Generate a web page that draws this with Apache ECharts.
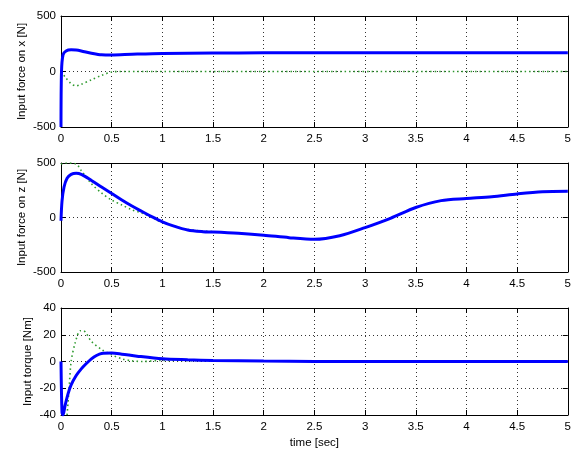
<!DOCTYPE html>
<html><head><meta charset="utf-8">
<script src="https://cdn.jsdelivr.net/npm/echarts@6/dist/echarts.min.js"></script>
<style>html,body{margin:0;padding:0;background:#fff}#c{width:574px;height:450px}</style>
</head><body><div id="c"></div>
<script>
// ---- data ----
const xTicks = [0,0.5,1,1.5,2,2.5,3,3.5,4,4.5,5];
const fxTime  = [0,0.005,0.02,0.05,0.1,0.15,0.2,0.3,0.4,0.5,0.7,1.0,1.5,2,5];
const fxBlue  = [-500,0,150,185,195,193,185,165,150,148,155,163,166,168,168];
const fxGTime = [0,0.05,0.1,0.15,0.2,0.3,0.4,0.5,0.6,5];
const fxGreen = [0,-60,-110,-130,-115,-75,-35,-5,0,0];

const fzTime  = [0,0.01,0.03,0.06,0.1,0.15,0.2,0.3,0.4,0.5,0.6,0.7,0.8,0.9,1.0,1.1,1.25,1.4,1.5,1.75,2.0,2.25,2.5,2.75,3.0,3.25,3.5,3.75,4.0,4.25,4.5,4.75,5];
const fzBlue  = [-30,150,280,360,395,405,395,340,280,220,160,105,55,5,-40,-75,-115,-130,-133,-145,-162,-185,-200,-167,-93,-8,92,155,174,190,216,236,241];
const fzGTime = [0,0.05,0.15,0.2,0.3,0.4,0.5,0.6,0.7,0.8,0.9,1.0,1.25,1.5];
const fzGreen = [490,500,490,430,310,225,160,115,70,40,0,-45,-110,-130];

const tqTime  = [0,0.01,0.02,0.04,0.07,0.1,0.15,0.2,0.25,0.3,0.35,0.4,0.5,0.6,0.75,1.0,1.25,1.5,2.0,2.5,5];
const tqBlue  = [0,-38,-40,-33,-24,-17.5,-10.5,-5.5,-1.5,2,4.5,6,6.3,5.5,4,2,1.3,0.8,0.3,0,0];
const tqGTime = [0.06,0.08,0.1,0.14,0.19,0.22,0.3,0.4,0.5,0.6,0.7,0.8,1.0,1.5,2,5];
const tqGreen = [-40,-20,0,14,23,23,15,9,5,2,0.5,0,0.8,0.5,0.2,0];

const yNames = ['Input force on x [N]','Input force on z [N]','Input torque [Nm]'];
const yRanges = [[-500,500,500],[-500,500,500],[-40,40,20]];
// ---------------

const zip = (a,b)=>a.map((v,i)=>[v,b[i]]);
const FONT = 'Liberation Sans';
const nameGaps = [33,33,27];
const grids = [
  {left:61, top:16, width:509, height:111},
  {left:61, top:163, width:509, height:109},
  {left:61, top:308, width:509, height:110}
];
const xAxis=[], yAxis=[];
grids.forEach((g,i)=>{
  xAxis.push({type:'value',gridIndex:i,min:0,max:5,interval:0.5,
    axisLine:{onZero:false,lineStyle:{color:'#000',width:1}},
    axisTick:{inside:true,length:5,lineStyle:{color:'#000'}},
    axisLabel:{color:'#000',fontFamily:FONT,fontSize:11.5,margin:6},
    splitLine:{show:true,lineStyle:{color:'#333',type:[1,3],width:1}},
    name: i===2?'time [sec]':'', nameLocation:'middle', nameGap:22,
    nameTextStyle:{color:'#000',fontFamily:FONT,fontSize:11.5}});
  xAxis.push({type:'value',gridIndex:i,min:0,max:5,interval:0.5,position:'top',
    axisLine:{onZero:false,lineStyle:{color:'#000',width:1}},
    axisTick:{inside:true,length:5,lineStyle:{color:'#000'}},
    axisLabel:{show:false},splitLine:{show:false}});
  const r=yRanges[i];
  yAxis.push({type:'value',gridIndex:i,min:r[0],max:r[1],interval:r[2],
    axisLine:{show:true,onZero:false,lineStyle:{color:'#000',width:1}},
    axisTick:{show:true,inside:true,length:5,lineStyle:{color:'#000'}},
    axisLabel:{color:'#000',fontFamily:FONT,fontSize:11.5,margin:5},
    splitLine:{show:true,lineStyle:{color:'#333',type:[1,3],width:1}},
    name:yNames[i],nameLocation:'middle',nameGap:nameGaps[i],nameRotate:90,nameMoveOverlap:false,
    nameTextStyle:{color:'#000',fontFamily:FONT,fontSize:11.5}});
  yAxis.push({type:'value',gridIndex:i,min:r[0],max:r[1],interval:r[2],position:'right',
    axisLine:{show:true,onZero:false,lineStyle:{color:'#000',width:1}},
    axisTick:{show:true,inside:true,length:5,lineStyle:{color:'#000'}},
    axisLabel:{show:false},splitLine:{show:false}});
});
const blue = (d,i)=>({type:'line',xAxisIndex:2*i,yAxisIndex:2*i,data:d,smooth:0.3,showSymbol:false,
  lineStyle:{color:'#0000ff',width:3},z:3});
const green = (d,i)=>({type:'line',xAxisIndex:2*i,yAxisIndex:2*i,data:d,smooth:0.3,showSymbol:false,
  lineStyle:{color:'#2f9a2f',width:1.6,type:[1.5,3]},z:2});
const chart = echarts.init(document.getElementById('c'),null,{renderer:'canvas'});
chart.setOption({
  animation:false,
  backgroundColor:'#fff',
  grid:grids,
  xAxis, yAxis,
  series:[
    green(zip(fxGTime,fxGreen),0), blue(zip(fxTime,fxBlue),0),
    green(zip(fzGTime,fzGreen),1), blue(zip(fzTime,fzBlue),1),
    green(zip(tqGTime,tqGreen),2), blue(zip(tqTime,tqBlue),2)
  ]
});
</script></body></html>
